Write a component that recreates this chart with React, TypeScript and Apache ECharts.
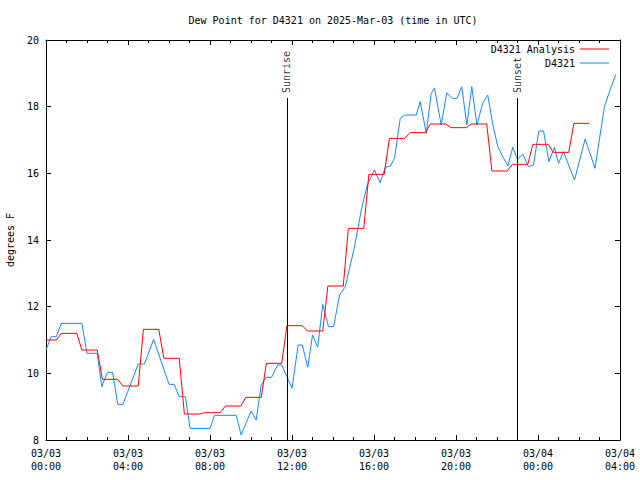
import React, { useEffect, useRef } from "react";
import * as echarts from "echarts";

const TITLE = "Dew Point for D4321 on 2025-Mar-03 (time in UTC)";
const Y_NAME = "degrees F";
const FONT = "DejaVu Sans Mono";

// x axis in hours since 2025-03-03 00:00 UTC
const xTickLabels = [
  "03/03\n00:00",
  "03/03\n04:00",
  "03/03\n08:00",
  "03/03\n12:00",
  "03/03\n16:00",
  "03/03\n20:00",
  "03/04\n00:00",
  "03/04\n04:00",
];

// Analysis: one value per hour (hour 0 .. 26)
const analysisHourly = [
  11.0, 11.2, 10.7, 9.82, 9.62, 11.32, 10.45, 8.78, 8.82, 9.02, 9.28, 10.3,
  11.43, 11.27, 12.62, 14.35, 15.97, 17.05, 17.22, 17.48, 17.37, 17.48, 16.07,
  16.27, 16.87, 16.63, 17.5,
];

// Observations
const obsHours = [
  0.0, 0.25, 0.5, 0.75, 1.75, 2.0, 2.5, 2.72, 3.0, 3.25, 3.5, 3.75, 4.5, 4.8,
  5.25, 6.0, 6.25, 6.5, 6.8, 7.03, 8.0, 8.22, 9.28, 9.52, 10.0, 10.25, 10.5,
  10.75, 11.0, 11.3, 11.5, 12.0, 12.3, 12.5, 12.77, 13.0, 13.25, 13.5, 13.78,
  14.03, 14.32, 14.6, 15.05, 15.38, 15.67, 16.02, 16.3, 16.55, 16.8, 17.0,
  17.28, 17.5, 18.06, 18.25, 18.55, 18.79, 18.95, 19.28, 19.55, 19.8, 20.05,
  20.28, 20.53, 20.77, 21.02, 21.3, 21.55, 21.8, 22.04, 22.28, 22.53, 22.77,
  23.0, 23.26, 23.53, 23.78, 24.04, 24.27, 24.53, 24.8, 25.0, 25.24, 25.78,
  26.3, 26.78, 27.24, 27.57, 27.8,
];
const obsValues = [
  10.7, 11.1, 11.1, 11.5, 11.5, 10.6, 10.6, 9.6, 10.03, 10.03, 9.07, 9.07,
  10.28, 10.28, 11.02, 9.67, 9.67, 9.3, 9.3, 8.35, 8.35, 8.74, 8.74, 8.15, 8.87,
  8.6, 9.65, 9.88, 9.88, 10.25, 10.25, 9.55, 10.85, 10.85, 10.18, 11.15, 10.78,
  12.07, 11.4, 11.4, 12.35, 12.6, 13.8, 14.9, 15.65, 16.1, 15.72, 16.18, 16.22,
  16.45, 17.65, 17.75, 17.75, 18.15, 17.2, 18.4, 18.55, 17.45, 18.42, 18.25,
  18.25, 18.6, 17.45, 18.6, 17.45, 18.1, 18.35, 17.45, 16.8, 16.5, 16.22,
  16.78, 16.42, 16.58, 16.2, 16.25, 17.27, 17.27, 16.35, 16.78, 16.3, 16.65,
  15.8, 17.03, 16.15, 18.0, 18.6, 18.97,
];

const SUNRISE_HOUR = 11.75;
const SUNSET_HOUR = 23.0;
const SUN_LINE_TOP = 18.26;
const sunEvents = [
  { name: "Sunrise", hour: SUNRISE_HOUR },
  { name: "Sunset", hour: SUNSET_HOUR },
];

const Y_MIN = 8;
const Y_MAX = 20;
const X_MIN = 0;
const X_MAX = 28;

function analysisSteps(): number[][] {
  const pts: number[][] = [];
  analysisHourly.forEach((v, k) => {
    pts.push([k === 0 ? 0 : k - 0.25, v]);
    pts.push([k + 0.5, v]);
  });
  return pts;
}

export default function App() {
  const ref = useRef<HTMLDivElement>(null);
  useEffect(() => {
    if (!ref.current) return;
    const chart = echarts.init(ref.current, undefined, { renderer: "svg" });
    const black = "#000";
    const txt = { color: black, fontFamily: FONT, fontSize: 10 };
    const baseX = {
      type: "value",
      min: X_MIN,
      max: X_MAX,
      interval: 4,
      axisLine: { onZero: false, lineStyle: { color: black, width: 1 } },
      axisTick: { inside: true, length: 5, lineStyle: { color: black } },
      minorTick: { show: true, splitNumber: 4, length: 3, lineStyle: { color: black } },
      splitLine: { show: false },
      minorSplitLine: { show: false },
    };
    const baseY = {
      type: "value",
      min: Y_MIN,
      max: Y_MAX,
      interval: 2,
      axisLine: { show: true, onZero: false, lineStyle: { color: black, width: 1 } },
      axisTick: { show: true, inside: true, length: 5, lineStyle: { color: black } },
      splitLine: { show: false },
    };
    const option: any = {
      animation: false,
      textStyle: txt,
      title: {
        text: TITLE,
        left: 328,
        top: 10,
        textAlign: "center",
        textStyle: { ...txt, fontWeight: "normal" },
      },
      legend: {
        data: ["D4321 Analysis", "D4321"],
        orient: "vertical",
        align: "right",
        right: 31,
        top: 44,
        padding: 0,
        icon: "rect",
        itemWidth: 29,
        itemHeight: 1,
        itemGap: 4,
        textStyle: txt,
      },
      grid: {
        left: 46,
        right: 20,
        top: 40,
        bottom: 40,
        containLabel: false,
        outerBoundsMode: "none",
      },
      xAxis: [
        {
          ...baseX,
          position: "bottom",
          axisLabel: {
            ...txt,
            margin: 7,
            lineHeight: 13,
            formatter: (v: number) => xTickLabels[Math.round(v / 4)] ?? "",
          },
        },
        { ...baseX, position: "top", axisLabel: { show: false } },
      ],
      yAxis: [
        {
          ...baseY,
          position: "left",
          name: Y_NAME,
          nameLocation: "middle",
          nameGap: 31,
          nameRotate: 90,
          nameTextStyle: txt,
          axisLabel: { ...txt, margin: 7 },
        },
        { ...baseY, position: "right", axisLabel: { show: false } },
      ],
      series: [
        {
          name: "D4321 Analysis",
          type: "line",
          data: analysisSteps(),
          symbol: "none",
          lineStyle: { color: "#ff0000", width: 1 },
          itemStyle: { color: "#ff0000" },
          z: 3,
        },
        {
          name: "D4321",
          type: "line",
          data: obsHours.map((h, i) => [h, obsValues[i]]),
          symbol: "none",
          lineStyle: { color: "#1589ff", width: 1 },
          itemStyle: { color: "#1589ff" },
          z: 2,
        },
        {
          name: "sun",
          type: "scatter",
          symbolSize: 0,
          data: sunEvents.map((e) => ({ value: [e.hour, SUN_LINE_TOP], name: e.name })),
          label: {
            show: true,
            position: [0, -5],
            rotate: 90,
            align: "left",
            verticalAlign: "middle",
            formatter: (p: any) => p.name,
            ...txt,
          },
          silent: true,
          markLine: {
            symbol: "none",
            silent: true,
            label: { show: false },
            lineStyle: { color: black, type: "solid", width: 1 },
            data: sunEvents.map((e) => [
              { coord: [e.hour, Y_MIN] },
              { coord: [e.hour, SUN_LINE_TOP] },
            ]),
          },
          z: 4,
        },
      ],
    };
    chart.setOption(option);
    return () => chart.dispose();
  }, []);
  return (
    <div
      ref={ref}
      style={{ position: "fixed", left: 0, top: 0, width: 640, height: 480, background: "#fff" }}
    />
  );
}
